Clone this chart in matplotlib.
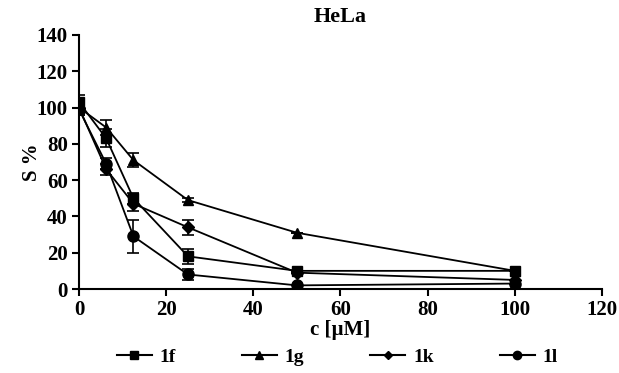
import matplotlib
matplotlib.use("Agg")
import matplotlib.pyplot as plt
from matplotlib.lines import Line2D

conc = [0, 6.25, 12.5, 25, 50, 100]
s_1f = [103, 83, 50, 18, 10, 10]
s_1g = [100, 89, 71, 49, 31, 10]
s_1k = [100, 66, 47, 34, 9, 5]
s_1l = [99, 69, 29, 8, 2, 3]
err_1f = [4, 5, 3, 4, 0, 0]
err_1g = [3, 4, 4, 1, 0, 0]
err_1k = [4, 3, 4, 4, 0, 0]
err_1l = [3, 3, 9, 3, 0, 0]
labels = ["1f", "1g", "1k", "1l"]
markers = ["s", "^", "D", "o"]

plt.rcParams['font.family'] = ['Liberation Serif', 'DejaVu Serif']
plt.rcParams['font.weight'] = 'bold'

fig = plt.figure(figsize=(6.19, 3.73), dpi=100)
ax = fig.add_axes([0.1276, 0.2252, 0.8449, 0.681])

series = [s_1f, s_1g, s_1k, s_1l]
errs = [err_1f, err_1g, err_1k, err_1l]
msizes = [7, 7, 6, 8]
handles = []
for y, e, lab, m, ms in zip(series, errs, labels, markers, msizes):
    ax.errorbar(conc, y, yerr=e, color='black', marker=m, markersize=ms,
                linewidth=1.3, elinewidth=1.2, capsize=4, capthick=1.2)
    handles.append(Line2D([], [], color='black', marker=m, markersize=ms * 0.75,
                          linewidth=1.5, label=lab))

ax.set_xlim(0, 120)
ax.set_ylim(0, 140)
ax.set_xticks(range(0, 121, 20))
ax.set_yticks(range(0, 141, 20))
for s in ['top', 'right']:
    ax.spines[s].set_visible(False)
for s in ['left', 'bottom']:
    ax.spines[s].set_linewidth(1.5)
ax.tick_params(direction='out', length=5, width=1.5, labelsize=15, pad=3)
for t in ax.get_xticklabels() + ax.get_yticklabels():
    t.set_fontweight('bold')
ax.set_xlabel("c [µM]", fontsize=15, fontweight='bold', labelpad=0)
ax.set_ylabel("S %", fontsize=15, fontweight='bold', labelpad=-4)
ax.set_title("HeLa", fontsize=16, fontweight='bold', pad=9)

fig.legend(handles=handles, loc='center', ncol=4, bbox_to_anchor=(0.545, 0.043),
           frameon=False, handlelength=1.8, handletextpad=0.4, columnspacing=3.4,
           prop={'weight': 'bold', 'size': 14})

fig.savefig("out.png", dpi=100)
